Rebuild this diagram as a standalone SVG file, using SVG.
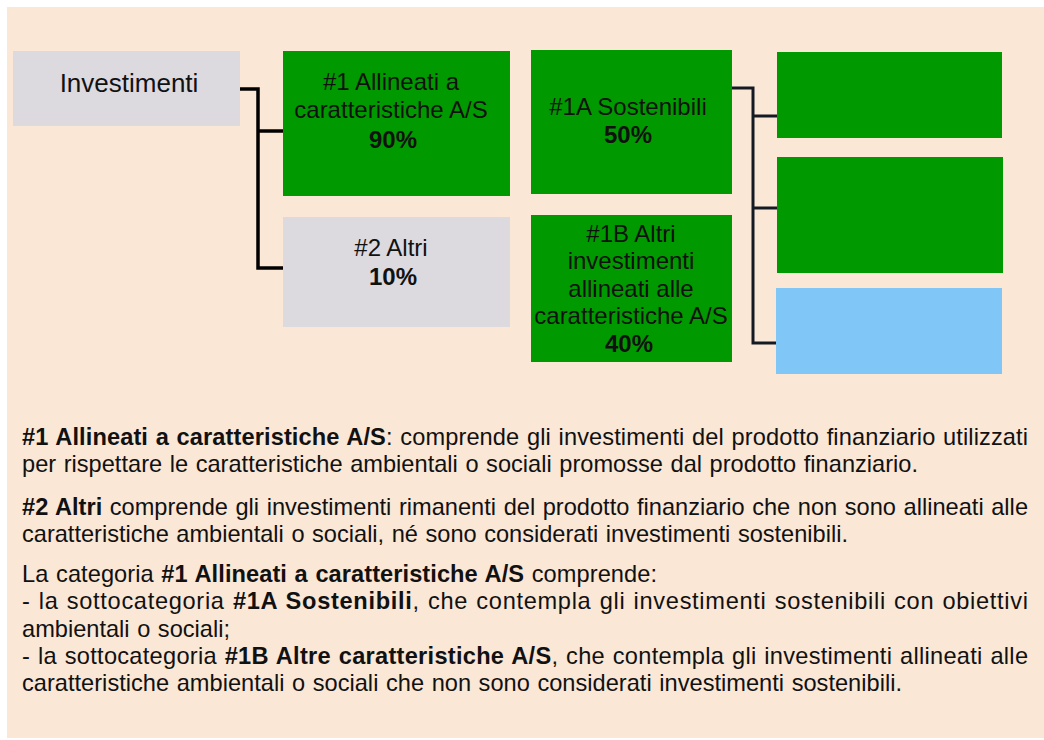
<svg xmlns="http://www.w3.org/2000/svg" width="1044" height="740" viewBox="0 0 1044 740">
<style>
.bg{fill:#FAE7D6}
.grey{fill:#DCD9DF}
.green{fill:#009900}
.blue{fill:#80C6F7}
.lbl{font-family:"Liberation Sans",Arial,sans-serif;font-size:24px;fill:#111;text-anchor:middle}
.big{font-family:"Liberation Sans",Arial,sans-serif;font-size:26px;fill:#111;text-anchor:middle}
.b{font-weight:bold}
.body{font-family:"Liberation Sans",Arial,sans-serif;font-size:23.6px;fill:#111;word-spacing:1px}
.conn{fill:none;stroke:#000;stroke-width:3.5;stroke-linejoin:miter}
.conn2{fill:none;stroke:#141A24;stroke-width:3;stroke-linejoin:miter}
</style>
<rect class="bg" x="7" y="7" width="1037" height="731"/>

<g id="connectors">
<path class="conn" d="M240 89 H258 V268 H283 M258 131 H283"/>
<path class="conn2" d="M732 88 H753 V343 H777 M753 116 H777 M753 208 H777"/>
</g>

<g id="investimenti">
<rect class="grey" x="13" y="51" width="227" height="75"/>
<text class="big" x="129" y="92">Investimenti</text>
</g>

<g id="n1">
<rect class="green" x="283" y="51" width="227" height="145"/>
<text class="lbl" x="391" y="90">#1 Allineati a</text>
<text class="lbl" x="391" y="118">caratteristiche A/S</text>
<text class="lbl b" x="393" y="148">90%</text>
</g>

<g id="n2">
<rect class="grey" x="283" y="217" width="227" height="110"/>
<text class="lbl" x="391" y="256">#2 Altri</text>
<text class="lbl b" x="393" y="285">10%</text>
</g>

<g id="n1a">
<rect class="green" x="531" y="50" width="201" height="144"/>
<text class="lbl" x="628" y="115">#1A Sostenibili</text>
<text class="lbl b" x="628" y="143">50%</text>
</g>

<g id="n1b">
<rect class="green" x="531" y="215" width="201" height="147"/>
<text class="lbl" x="631" y="242">#1B Altri</text>
<text class="lbl" x="631" y="269">investimenti</text>
<text class="lbl" x="631" y="297">allineati alle</text>
<text class="lbl" x="631" y="324">caratteristiche A/S</text>
<text class="lbl b" x="629" y="352">40%</text>
</g>

<g id="r1">
<rect class="green" x="777" y="52" width="225" height="86"/>
</g>
<g id="r2">
<rect class="green" x="777" y="157" width="226" height="116"/>
</g>
<g id="r3">
<rect class="blue" x="776" y="288" width="226" height="86"/>
</g>

<g id="legend">
<text class="body" x="22" y="445" textLength="1006" lengthAdjust="spacing"><tspan class="b">#1 Allineati a caratteristiche A/S</tspan>: comprende gli investimenti del prodotto finanziario utilizzati</text>
<text class="body" x="22" y="472" textLength="896" lengthAdjust="spacing">per rispettare le caratteristiche ambientali o sociali promosse dal prodotto finanziario.</text>
<text class="body" x="22" y="515" textLength="1006" lengthAdjust="spacing"><tspan class="b">#2 Altri</tspan> comprende gli investimenti rimanenti del prodotto finanziario che non sono allineati alle</text>
<text class="body" x="22" y="542" textLength="826" lengthAdjust="spacing">caratteristiche ambientali o sociali, né sono considerati investimenti sostenibili.</text>
<text class="body" x="22" y="582" textLength="635" lengthAdjust="spacing">La categoria <tspan class="b">#1 Allineati a caratteristiche A/S</tspan> comprende:</text>
<text class="body" x="22" y="609" textLength="1006" lengthAdjust="spacing">- la sottocategoria <tspan class="b">#1A Sostenibili</tspan>, che contempla gli investimenti sostenibili con obiettivi</text>
<text class="body" x="22" y="637" textLength="208" lengthAdjust="spacing">ambientali o sociali;</text>
<text class="body" x="22" y="664" textLength="1006" lengthAdjust="spacing">- la sottocategoria <tspan class="b">#1B Altre caratteristiche A/S</tspan>, che contempla gli investimenti allineati alle</text>
<text class="body" x="22" y="691" textLength="880" lengthAdjust="spacing">caratteristiche ambientali o sociali che non sono considerati investimenti sostenibili.</text>
</g>
</svg>
